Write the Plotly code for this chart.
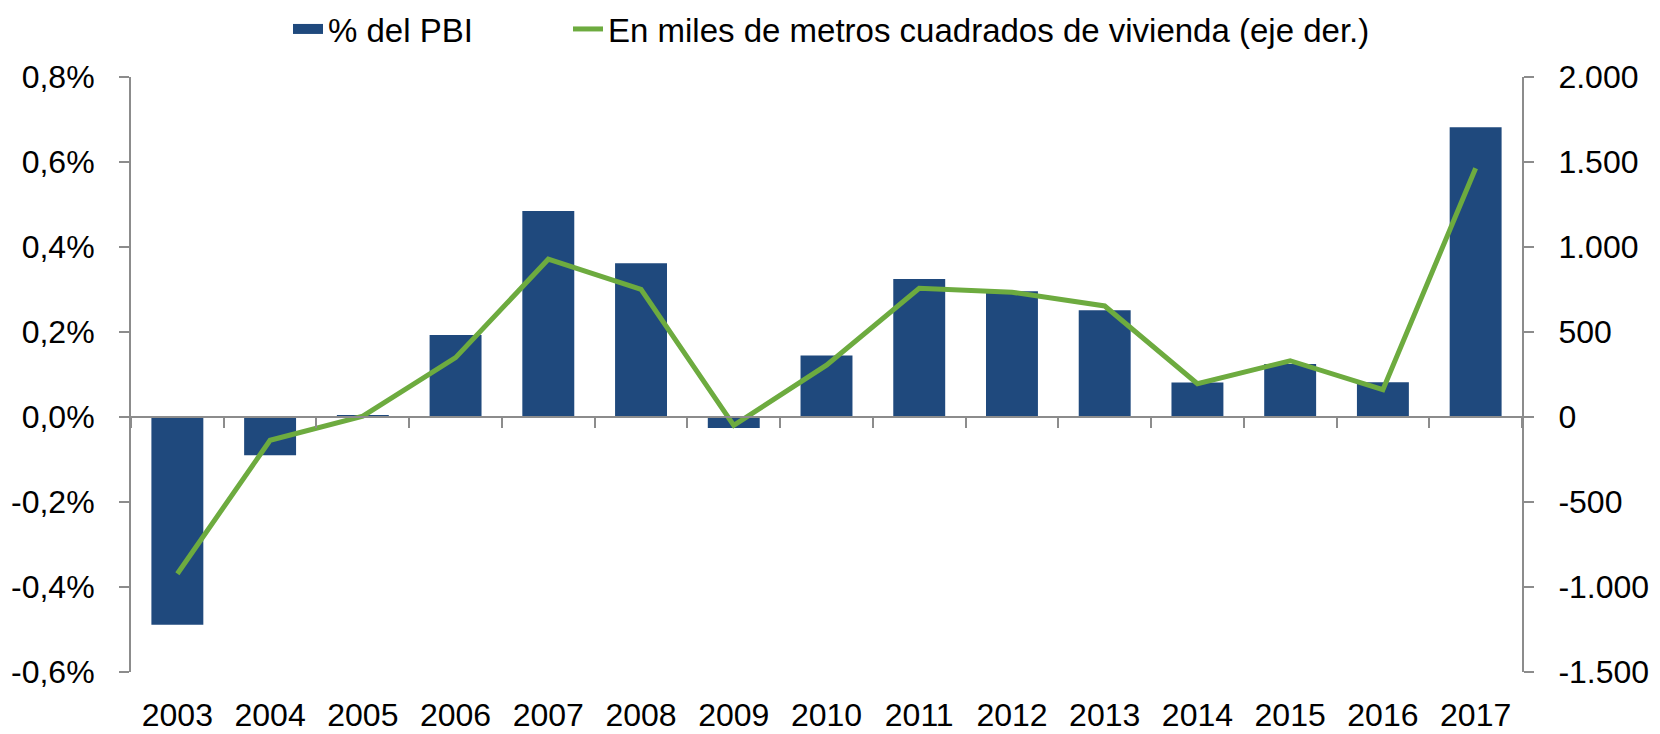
import plotly.graph_objects as go

years = ["2003", "2004", "2005", "2006", "2007", "2008", "2009", "2010",
         "2011", "2012", "2013", "2014", "2015", "2016", "2017"]
pbi_pct = [-0.489, -0.090, 0.003, 0.193, 0.485, 0.362, -0.026, 0.145,
           0.325, 0.296, 0.251, 0.081, 0.125, 0.082, 0.682]
miles_m2 = [-922, -137, 5, 349, 928, 751, -49, 305,
            757, 734, 653, 196, 331, 161, 1463]

left_ticks = [-0.6, -0.4, -0.2, 0.0, 0.2, 0.4, 0.6, 0.8]
left_text = ["-0,6%", "-0,4%", "-0,2%", "0,0%", "0,2%", "0,4%", "0,6%", "0,8%"]
right_ticks = [-1500, -1000, -500, 0, 500, 1000, 1500, 2000]
right_text = ["-1.500", "-1.000", "-500", "0", "500", "1.000", "1.500", "2.000"]

BLUE = "#1F497D"
GREEN = "#6DAB3F"
AXIS = "#8C8C8C"
FONT = "Liberation Sans"

# page body has an 8px margin, so the figure is drawn 8px smaller
W, H = 1652, 726

fig = go.Figure()
fig.add_trace(go.Bar(x=years, y=pbi_pct, name="% del PBI", marker_color=BLUE,
                     marker_line_width=0, xaxis="x", yaxis="y", showlegend=False))
# legend entry for the bars drawn as a wide rectangle
fig.add_trace(go.Scatter(x=[None], y=[None], name="% del PBI", mode="lines",
                         line=dict(color=BLUE, width=20), xaxis="x", yaxis="y",
                         legend="legend"))
fig.add_trace(go.Scatter(x=years, y=miles_m2, name="En miles de metros cuadrados de vivienda (eje der.)",
                         mode="lines", line=dict(color=GREEN, width=5),
                         xaxis="x2", yaxis="y2", legend="legend2"))

ymin, ymax = left_ticks[0], left_ticks[-1]
zero_pos = (0 - ymin) / (ymax - ymin)

legend_common = dict(orientation="h", xref="container", yref="container",
                     xanchor="left", y=1 - 21 / H, yanchor="middle",
                     font=dict(size=33), bgcolor="rgba(0,0,0,0)")

fig.update_layout(
    width=W, height=H,
    margin=dict(l=123, r=138, t=69, b=62, autoexpand=False),
    plot_bgcolor="white", paper_bgcolor="white",
    font=dict(family=FONT, size=32, color="black"),
    bargap=0.44,
    showlegend=True,
    legend=dict(x=280 / W, **legend_common),
    legend2=dict(x=560 / W, **legend_common),
    xaxis=dict(type="category", categoryorder="array", categoryarray=years,
               showline=False, ticks="", showgrid=False, automargin=False,
               ticklabelstandoff=21, tickfont=dict(size=32)),
    xaxis2=dict(type="category", matches="x", overlaying="x", anchor="free",
                position=zero_pos, showline=True, linecolor=AXIS, linewidth=2,
                ticks="outside", tickson="boundaries", ticklen=10, tickcolor=AXIS,
                tickwidth=2, showticklabels=False, showgrid=False, automargin=False),
    yaxis=dict(range=[ymin, ymax], tickvals=left_ticks, ticktext=left_text,
               showline=True, linecolor=AXIS, linewidth=2, ticks="outside",
               ticklen=10, tickcolor=AXIS, tickwidth=2, showgrid=False,
               zeroline=False, ticklabelstandoff=18, tickfont=dict(size=32),
               automargin=False),
    yaxis2=dict(range=[right_ticks[0], right_ticks[-1]], tickvals=right_ticks,
                ticktext=right_text, overlaying="y", side="right", anchor="x",
                showline=True, linecolor=AXIS, linewidth=2, ticks="outside",
                ticklen=10, tickcolor=AXIS, tickwidth=2, showgrid=False,
                zeroline=False, ticklabelstandoff=18, tickfont=dict(size=32),
                automargin=False),
)

fig.write_html("out.html")
